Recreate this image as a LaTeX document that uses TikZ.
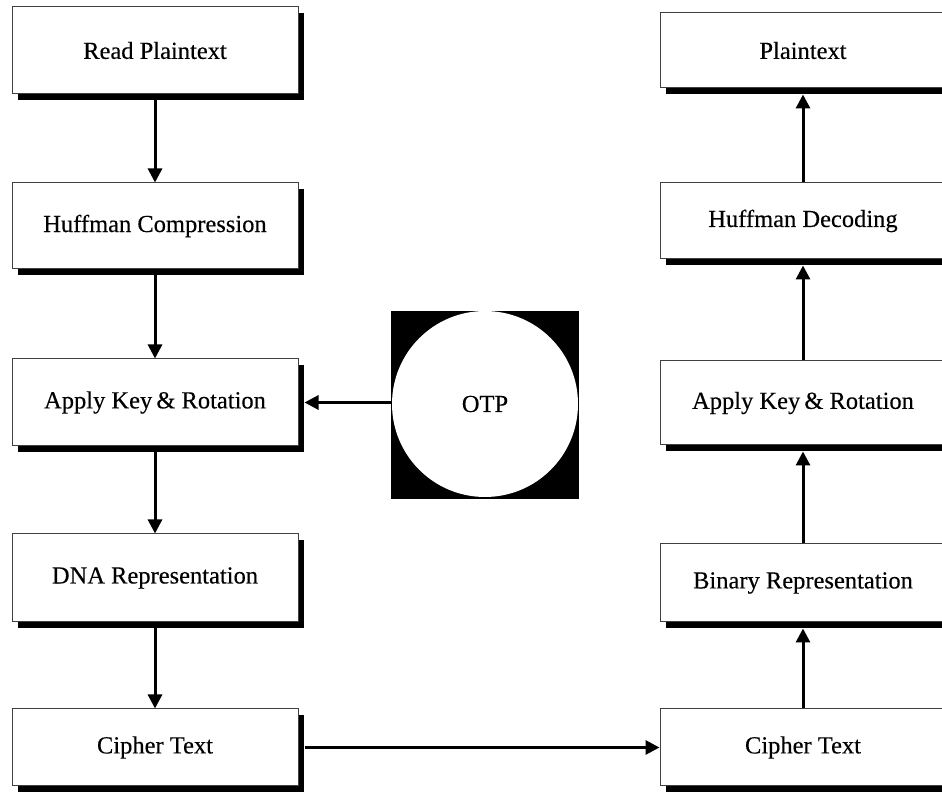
\documentclass[tikz,border=0pt]{standalone}
\usepackage{fontspec}
\setmainfont{Liberation Serif}
\newfontfamily\boxfont{Liberation Serif}[FakeBold=0.3]
\usetikzlibrary{shadows,arrows.meta}
\begin{document}
\begin{tikzpicture}[x=1pt,y=1pt,
  procbox/.style={draw=black!75, line width=1pt, fill=white, minimum width=286pt,
    inner sep=0pt, font=\boxfont\fontsize{24.5}{28}\selectfont,
    general shadow={shadow xshift=6pt, shadow yshift=-6pt, fill=black}},
  flow/.style={line width=3pt, -{Triangle[length=14pt,width=14pt]}}
]
\clip (0,0) rectangle (942,794);
\useasboundingbox (0,0) rectangle (942,794);
% left column
\node[procbox, minimum height=87pt] (rp) at (155,743.5) {Read Plaintext};
\node[procbox, minimum height=86pt] (hc) at (155,568) {Huffman Compression};
\node[procbox, minimum height=87pt] (ak) at (155,391.5) {Apply Key\,\& Rotation};
\node[procbox, minimum height=88pt] (dna) at (155,216) {DNA Representation};
\node[procbox, minimum height=77pt] (lc) at (155,46.5) {Cipher Text};
% right column
\node[procbox, minimum height=75pt] (pt) at (803,743.5) {Plaintext};
\node[procbox, minimum height=76pt] (hd) at (803,573) {Huffman Decoding};
\node[procbox, minimum height=84pt] (ak2) at (803,391) {Apply Key\,\& Rotation};
\node[procbox, minimum height=78pt] (br) at (803,211) {Binary Representation};
\node[procbox, minimum height=77pt] (rc) at (803,46.5) {Cipher Text};
% OTP
\node[fill=black, minimum size=188pt, inner sep=0pt] (otpsq) at (485,389) {};
\node[circle, fill=white, minimum size=186pt, inner sep=0pt,
  font=\boxfont\fontsize{24.5}{28}\selectfont] (otp) at (485,390) {OTP};
% connectors
\draw[flow] (rp.south) -- (hc.north);
\draw[flow] (hc.south) -- (ak.north);
\draw[flow] (ak.south) -- (dna.north);
\draw[flow] (dna.south) -- (lc.north);
\draw[flow] ([xshift=6pt]lc.east) -- (rc.west);
\draw[flow] (rc.north) -- ([yshift=-6pt]br.south);
\draw[flow] (br.north) -- ([yshift=-6pt]ak2.south);
\draw[flow] (ak2.north) -- ([yshift=-6pt]hd.south);
\draw[flow] (hd.north) -- ([yshift=-6pt]pt.south);
\draw[flow] (otp.west |- ak.east) -- ([xshift=6pt]ak.east);
\end{tikzpicture}
\end{document}
